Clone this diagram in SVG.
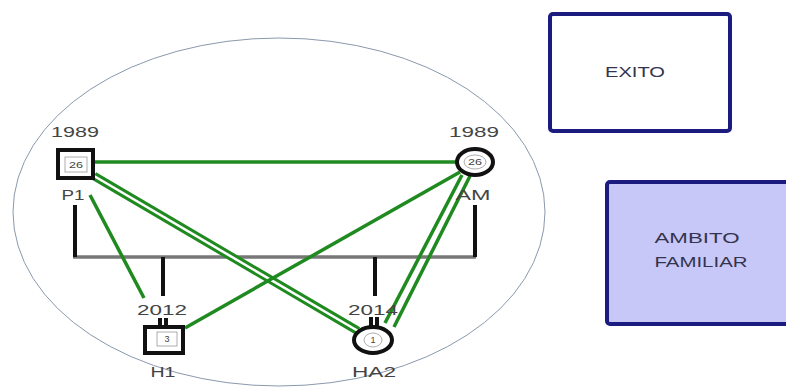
<svg xmlns="http://www.w3.org/2000/svg" width="786" height="391" viewBox="0 0 786 391">
<style>
.lbl{font-family:"Liberation Sans",Arial,sans-serif;font-size:14px;fill:#444;text-anchor:middle}
.num{font-family:"Liberation Sans",Arial,sans-serif;font-size:9px;fill:#444;text-anchor:middle}
.box{font-family:"Liberation Sans",Arial,sans-serif;font-size:15px;fill:#34344f;text-anchor:middle}
.g{stroke:#1f8a1f;stroke-width:3.5;fill:none;stroke-linecap:butt}
.dbl{stroke:#1f8a1f;stroke-width:8.5;fill:none}
.gap{stroke:#fff;stroke-width:2.5;fill:none}
.blk{stroke:#111;stroke-width:4;fill:none}
.node{fill:#fff;stroke:#111;stroke-width:4}
.inner{fill:#fff;stroke:#999;stroke-width:0.8}
</style>
<rect width="786" height="391" fill="#fff"/>
<ellipse cx="279" cy="212" rx="266" ry="174" fill="none" stroke="#8a99ad" stroke-width="1"/>
<g id="connectors">
  <line x1="73" y1="257" x2="476" y2="257" stroke="#777" stroke-width="3.5"/>
  <line class="blk" x1="75" y1="205" x2="75" y2="257"/>
  <line class="blk" x1="475" y1="205" x2="475" y2="257"/>
  <line class="blk" x1="163" y1="257" x2="163" y2="296"/>
  <line class="blk" x1="375" y1="257" x2="375" y2="296"/>
  <line class="blk" x1="160" y1="318" x2="160" y2="325" stroke-width="3"/>
  <line class="blk" x1="166" y1="318" x2="166" y2="325" stroke-width="3"/>
  <line class="blk" x1="371" y1="317" x2="371" y2="326" stroke-width="3"/>
  <line class="blk" x1="377" y1="317" x2="377" y2="326" stroke-width="3"/>
  <line class="g" x1="95" y1="162" x2="456" y2="162"/>
  <line class="dbl" x1="94" y1="176" x2="358" y2="331"/>
  <line class="gap" x1="94" y1="176" x2="358" y2="331"/>
  <line class="g" x1="90" y1="195" x2="144" y2="298"/>
  <line class="g" x1="460" y1="172" x2="185" y2="328"/>
  <line class="g" x1="462" y1="175" x2="385" y2="323"/>
  <line class="g" x1="470" y1="176" x2="394" y2="327"/>
</g>
<g id="P1">
  <text class="lbl" x="75" y="137" textLength="48" lengthAdjust="spacingAndGlyphs">1989</text>
  <rect class="node" x="58" y="150" width="35" height="28"/>
  <rect class="inner" x="65" y="157" width="22" height="15"/>
  <text class="num" x="76" y="168" textLength="14" lengthAdjust="spacingAndGlyphs">26</text>
  <text class="lbl" x="73" y="200" textLength="23" lengthAdjust="spacingAndGlyphs">P1</text>
</g>
<g id="AM">
  <text class="lbl" x="474" y="137" textLength="50" lengthAdjust="spacingAndGlyphs">1989</text>
  <ellipse class="node" cx="475" cy="162" rx="18" ry="13"/>
  <ellipse class="inner" cx="475" cy="162" rx="11" ry="7"/>
  <text class="num" x="475" y="165" textLength="14" lengthAdjust="spacingAndGlyphs">26</text>
  <text class="lbl" x="473" y="200" textLength="35" lengthAdjust="spacingAndGlyphs">AM</text>
</g>
<g id="H1">
  <text class="lbl" x="162" y="315" textLength="50" lengthAdjust="spacingAndGlyphs">2012</text>
  <rect class="node" x="145" y="327" width="38" height="26"/>
  <rect class="inner" x="157" y="332" width="20" height="14"/>
  <text class="num" x="167" y="342">3</text>
  <text class="lbl" x="163" y="377" textLength="25" lengthAdjust="spacingAndGlyphs">H1</text>
</g>
<g id="HA2">
  <text class="lbl" x="373" y="315" textLength="50" lengthAdjust="spacingAndGlyphs">2014</text>
  <ellipse class="node" cx="373" cy="340" rx="19" ry="13"/>
  <ellipse class="inner" cx="373" cy="340" rx="9" ry="7"/>
  <text class="num" x="373" y="343">1</text>
  <text class="lbl" x="374" y="377" textLength="44" lengthAdjust="spacingAndGlyphs">HA2</text>
</g>
<g id="EXITO">
  <rect x="550" y="14" width="180" height="117" rx="3" fill="#fff" stroke="#1c1c80" stroke-width="4"/>
  <text class="box" x="635" y="77" textLength="60" lengthAdjust="spacingAndGlyphs">EXITO</text>
</g>
<g id="AMBITO">
  <rect x="607" y="182" width="200" height="142" rx="3" fill="#c8c8f8" stroke="#1c1c80" stroke-width="4"/>
  <text class="box" x="697" y="243" textLength="85" lengthAdjust="spacingAndGlyphs">AMBITO</text>
  <text class="box" x="701" y="267" textLength="93" lengthAdjust="spacingAndGlyphs">FAMILIAR</text>
</g>
</svg>
